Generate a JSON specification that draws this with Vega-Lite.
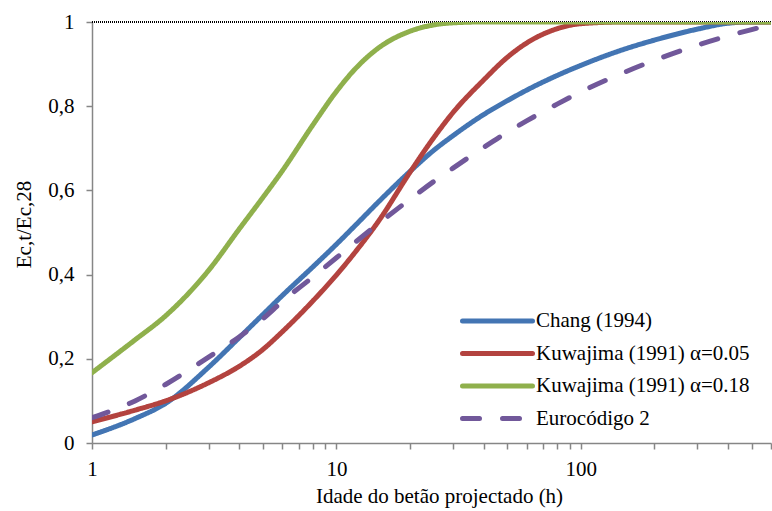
{
  "$schema": "https://vega.github.io/schema/vega-lite/v6.json",
  "width": 679,
  "height": 421,
  "autosize": {"type": "none"},
  "padding": {"left": 92, "top": 22, "right": 1, "bottom": 68},
  "background": "white",
  "config": {
    "view": {"stroke": null},
    "font": "Times New Roman, Liberation Serif, serif",
    "axis": {
      "labelFont": "Times New Roman, Liberation Serif, serif",
      "titleFont": "Times New Roman, Liberation Serif, serif",
      "labelColor": "black",
      "titleColor": "black",
      "titleFontWeight": "normal",
      "domainColor": "#868686",
      "tickColor": "#868686",
      "domainWidth": 1.5,
      "tickWidth": 1.5,
      "grid": false
    },
    "legend": {"labelFont": "Times New Roman, Liberation Serif, serif"}
  },
  "data": {
    "values": [
      {"serie": "Chang (1994)", "t": 1, "v": 0.019},
      {"serie": "Chang (1994)", "t": 1.5, "v": 0.058},
      {"serie": "Chang (1994)", "t": 2, "v": 0.094},
      {"serie": "Chang (1994)", "t": 3, "v": 0.18},
      {"serie": "Chang (1994)", "t": 4, "v": 0.25},
      {"serie": "Chang (1994)", "t": 5, "v": 0.305},
      {"serie": "Chang (1994)", "t": 6, "v": 0.35},
      {"serie": "Chang (1994)", "t": 8, "v": 0.418},
      {"serie": "Chang (1994)", "t": 10, "v": 0.472},
      {"serie": "Chang (1994)", "t": 12, "v": 0.518},
      {"serie": "Chang (1994)", "t": 15, "v": 0.575},
      {"serie": "Chang (1994)", "t": 20, "v": 0.645},
      {"serie": "Chang (1994)", "t": 25, "v": 0.695},
      {"serie": "Chang (1994)", "t": 30, "v": 0.73},
      {"serie": "Chang (1994)", "t": 40, "v": 0.78},
      {"serie": "Chang (1994)", "t": 50, "v": 0.813},
      {"serie": "Chang (1994)", "t": 60, "v": 0.838},
      {"serie": "Chang (1994)", "t": 80, "v": 0.873},
      {"serie": "Chang (1994)", "t": 100, "v": 0.897},
      {"serie": "Chang (1994)", "t": 150, "v": 0.935},
      {"serie": "Chang (1994)", "t": 200, "v": 0.957},
      {"serie": "Chang (1994)", "t": 300, "v": 0.983},
      {"serie": "Chang (1994)", "t": 400, "v": 0.997},
      {"serie": "Chang (1994)", "t": 500, "v": 1.0},
      {"serie": "Chang (1994)", "t": 600, "v": 1.0},
      {"serie": "Kuwajima (1991) α=0.05", "t": 1, "v": 0.05},
      {"serie": "Kuwajima (1991) α=0.05", "t": 1.5, "v": 0.078},
      {"serie": "Kuwajima (1991) α=0.05", "t": 2, "v": 0.1},
      {"serie": "Kuwajima (1991) α=0.05", "t": 3, "v": 0.143},
      {"serie": "Kuwajima (1991) α=0.05", "t": 4, "v": 0.182},
      {"serie": "Kuwajima (1991) α=0.05", "t": 5, "v": 0.222},
      {"serie": "Kuwajima (1991) α=0.05", "t": 6, "v": 0.264},
      {"serie": "Kuwajima (1991) α=0.05", "t": 8, "v": 0.337},
      {"serie": "Kuwajima (1991) α=0.05", "t": 10, "v": 0.399},
      {"serie": "Kuwajima (1991) α=0.05", "t": 12, "v": 0.455},
      {"serie": "Kuwajima (1991) α=0.05", "t": 15, "v": 0.53},
      {"serie": "Kuwajima (1991) α=0.05", "t": 20, "v": 0.643},
      {"serie": "Kuwajima (1991) α=0.05", "t": 25, "v": 0.725},
      {"serie": "Kuwajima (1991) α=0.05", "t": 30, "v": 0.785},
      {"serie": "Kuwajima (1991) α=0.05", "t": 40, "v": 0.862},
      {"serie": "Kuwajima (1991) α=0.05", "t": 50, "v": 0.916},
      {"serie": "Kuwajima (1991) α=0.05", "t": 60, "v": 0.95},
      {"serie": "Kuwajima (1991) α=0.05", "t": 80, "v": 0.984},
      {"serie": "Kuwajima (1991) α=0.05", "t": 100, "v": 0.996},
      {"serie": "Kuwajima (1991) α=0.05", "t": 150, "v": 1.0},
      {"serie": "Kuwajima (1991) α=0.05", "t": 600, "v": 1.0},
      {"serie": "Kuwajima (1991) α=0.18", "t": 1, "v": 0.167},
      {"serie": "Kuwajima (1991) α=0.18", "t": 1.5, "v": 0.245},
      {"serie": "Kuwajima (1991) α=0.18", "t": 2, "v": 0.302},
      {"serie": "Kuwajima (1991) α=0.18", "t": 3, "v": 0.41},
      {"serie": "Kuwajima (1991) α=0.18", "t": 4, "v": 0.508},
      {"serie": "Kuwajima (1991) α=0.18", "t": 5, "v": 0.583},
      {"serie": "Kuwajima (1991) α=0.18", "t": 6, "v": 0.646},
      {"serie": "Kuwajima (1991) α=0.18", "t": 8, "v": 0.755},
      {"serie": "Kuwajima (1991) α=0.18", "t": 10, "v": 0.835},
      {"serie": "Kuwajima (1991) α=0.18", "t": 12, "v": 0.89},
      {"serie": "Kuwajima (1991) α=0.18", "t": 15, "v": 0.94},
      {"serie": "Kuwajima (1991) α=0.18", "t": 20, "v": 0.978},
      {"serie": "Kuwajima (1991) α=0.18", "t": 25, "v": 0.993},
      {"serie": "Kuwajima (1991) α=0.18", "t": 30, "v": 0.998},
      {"serie": "Kuwajima (1991) α=0.18", "t": 40, "v": 1.0},
      {"serie": "Kuwajima (1991) α=0.18", "t": 600, "v": 1.0},
      {"serie": "Eurocódigo 2", "t": 1, "v": 0.06},
      {"serie": "Eurocódigo 2", "t": 1.5, "v": 0.1},
      {"serie": "Eurocódigo 2", "t": 2, "v": 0.139},
      {"serie": "Eurocódigo 2", "t": 3, "v": 0.204},
      {"serie": "Eurocódigo 2", "t": 4, "v": 0.252},
      {"serie": "Eurocódigo 2", "t": 5, "v": 0.295},
      {"serie": "Eurocódigo 2", "t": 6, "v": 0.336},
      {"serie": "Eurocódigo 2", "t": 8, "v": 0.394},
      {"serie": "Eurocódigo 2", "t": 10, "v": 0.44},
      {"serie": "Eurocódigo 2", "t": 12, "v": 0.478},
      {"serie": "Eurocódigo 2", "t": 15, "v": 0.523},
      {"serie": "Eurocódigo 2", "t": 20, "v": 0.579},
      {"serie": "Eurocódigo 2", "t": 25, "v": 0.621},
      {"serie": "Eurocódigo 2", "t": 30, "v": 0.653},
      {"serie": "Eurocódigo 2", "t": 40, "v": 0.702},
      {"serie": "Eurocódigo 2", "t": 50, "v": 0.738},
      {"serie": "Eurocódigo 2", "t": 60, "v": 0.765},
      {"serie": "Eurocódigo 2", "t": 80, "v": 0.805},
      {"serie": "Eurocódigo 2", "t": 100, "v": 0.834},
      {"serie": "Eurocódigo 2", "t": 150, "v": 0.88},
      {"serie": "Eurocódigo 2", "t": 200, "v": 0.909},
      {"serie": "Eurocódigo 2", "t": 300, "v": 0.945},
      {"serie": "Eurocódigo 2", "t": 400, "v": 0.967},
      {"serie": "Eurocódigo 2", "t": 500, "v": 0.982},
      {"serie": "Eurocódigo 2", "t": 600, "v": 0.993}
    ]
  },
  "layer": [
    {
      "mark": {"type": "rule", "color": "black", "strokeWidth": 1, "strokeDash": [1, 1]},
      "encoding": {"y": {"datum": 1}}
    },
    {
      "mark": {"type": "line", "strokeWidth": 5, "strokeCap": "round", "strokeJoin": "round", "interpolate": "monotone", "clip": true},
      "encoding": {
        "x": {
          "field": "t",
          "type": "quantitative",
          "scale": {"type": "log", "domain": [1, 600], "nice": false},
          "axis": {
            "title": "Idade do betão projectado (h)",
            "values": [1, 2, 3, 4, 5, 6, 7, 8, 9, 10, 20, 30, 40, 50, 60, 70, 80, 90, 100, 200, 300, 400, 500, 600],
            "labelExpr": "datum.value == 1 || datum.value == 10 || datum.value == 100 ? format(datum.value, 'd') : ''",
            "labelFontSize": 21,
            "titleFontSize": 21,
            "tickSize": 6,
            "labelPadding": 9,
            "labelFlush": false,
            "labelOverlap": false,
            "titleBaseline": "alphabetic",
            "titleX": 347,
            "titleY": 59
          }
        },
        "y": {
          "field": "v",
          "type": "quantitative",
          "scale": {"domain": [0, 1], "nice": false},
          "axis": {
            "title": "Ec,t/Ec,28",
            "values": [0, 0.2, 0.4, 0.6, 0.8, 1],
            "labelExpr": "replace(format(datum.value, '~g'), '.', ',')",
            "labelFontSize": 21,
            "titleFontSize": 21,
            "tickSize": 6,
            "labelPadding": 12,
            "titleAngle": -90,
            "titleBaseline": "alphabetic",
            "titleX": -62,
            "titleY": 202
          }
        },
        "color": {
          "field": "serie",
          "type": "nominal",
          "scale": {
            "domain": ["Chang (1994)", "Kuwajima (1991) α=0.05", "Kuwajima (1991) α=0.18", "Eurocódigo 2"],
            "range": ["#4375b3", "#b3433f", "#8fb04c", "#71589a"]
          },
          "legend": {
            "title": null,
            "orient": "none",
            "legendX": 368,
            "legendY": 287,
            "symbolType": "stroke",
            "symbolSize": 4900,
            "symbolStrokeWidth": 5,
            "clipHeight": 24,
            "rowPadding": 8.5,
            "labelOffset": 1,
            "labelFontSize": 21,
            "labelColor": "black",
            "labelLimit": 300,
            "encode": {"symbols": {"update": {"strokeCap": {"value": "round"}}}}
          }
        },
        "strokeDash": {
          "field": "serie",
          "type": "nominal",
          "scale": {
            "domain": ["Chang (1994)", "Kuwajima (1991) α=0.05", "Kuwajima (1991) α=0.18", "Eurocódigo 2"],
            "range": [[1, 0], [1, 0], [1, 0], [17, 23]]
          },
          "legend": {
            "title": null,
            "orient": "none",
            "legendX": 368,
            "legendY": 287,
            "symbolType": "stroke",
            "symbolSize": 4900,
            "symbolStrokeWidth": 5,
            "clipHeight": 24,
            "rowPadding": 8.5,
            "labelOffset": 1,
            "labelFontSize": 21,
            "labelColor": "black",
            "labelLimit": 300,
            "encode": {"symbols": {"update": {"strokeCap": {"value": "round"}}}}
          }
        }
      }
    }
  ]
}
